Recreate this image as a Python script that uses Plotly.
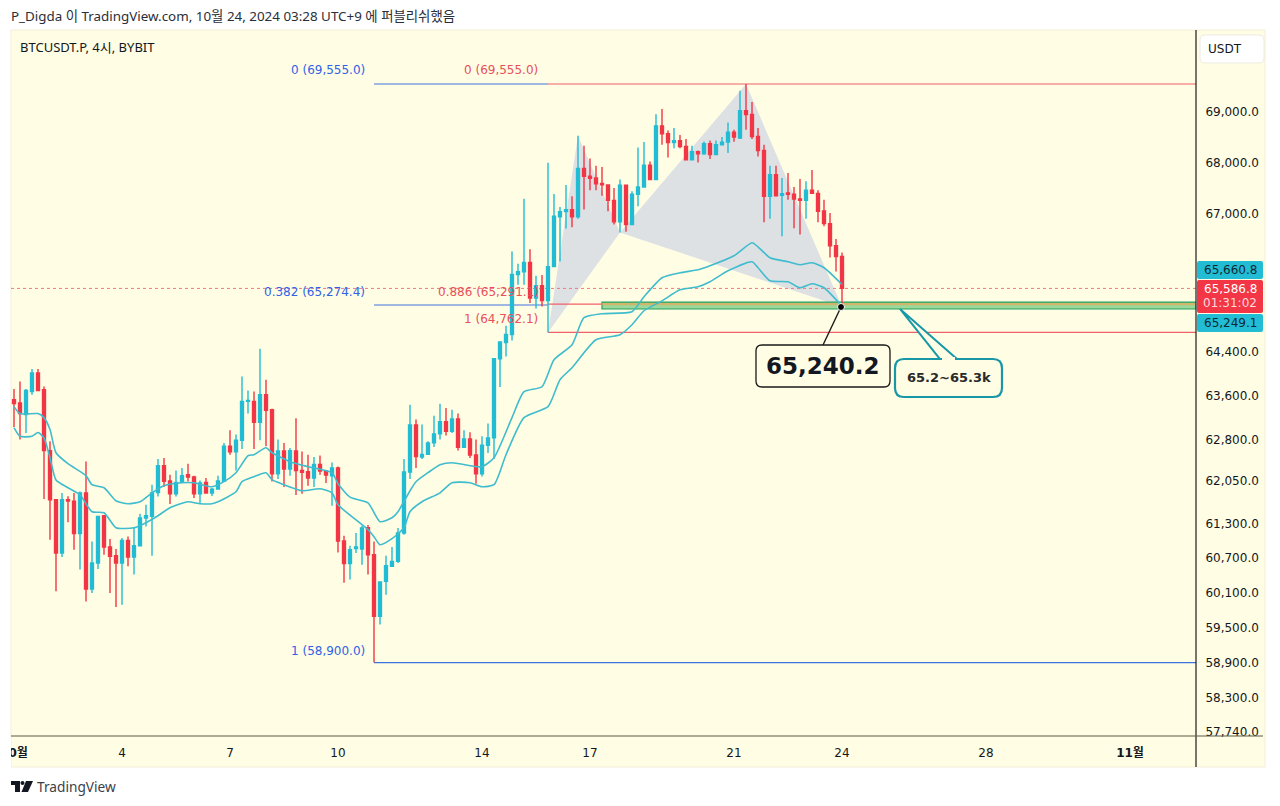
import pandas as pd
import plotly.graph_objects as go

W, H = 1280, 806
FONT = "DejaVu Sans, Noto Sans CJK KR, sans-serif"
KFONT = "Noto Sans, Noto Sans CJK KR, sans-serif"

opens = [63522,63462,63250,63673,64011,63704,62597,61721,60784,61721,61698,61123,61841,60158,60611,61439,60888,60737,60611,61005,
60715,60911,61399,61427,61851,62329,62055,61828,62030,62168,62126,61828,62030,61841,61911,62048,62677,62579,62785,63491,
63491,63111,63612,63341,62185,62592,62270,62592,62244,62221,62108,62352,62234,62150,62287,60994,60599,60864,60853,61228,
60755,59688,60293,60552,60639,61134,62217,63064,62484,62531,62738,62901,63124,62948,63173,62660,62811,62520,62185,62695,
62829,64274,64576,64725,65850,65902,66078,65404,65637,65359,66002,66949,67051,67089,66949,67889,67734,67703,67593,67567,
67268,66853,67559,66801,67385,67527,67949,67670,68724,68567,68395,68429,68317,68058,68213,68174,68370,68161,68350,68403,
68600,68482,69026,68947,68513,68238,67345,67766,67364,67410,67385,67295,67268,67462,67403,67062,66820,66395,66191]
highs = [63717,63857,63717,64085,64085,63765,62767,61730,61841,61785,61841,61870,62406,60987,61439,61439,61029,60853,61047,61075,
61223,61475,61633,61989,62449,62466,62168,62244,62287,62364,62150,62065,62108,61929,62150,62738,62966,62888,63949,63691,
63673,64459,63888,63359,62798,62738,62645,63184,62585,62526,62484,62513,62244,62388,62316,61087,60911,61134,61263,61276,
60987,60293,60737,60888,61223,62449,63432,63160,63070,62767,63232,63450,63372,63341,63269,62966,62930,62798,62857,63088,
64290,64583,64888,66286,66053,67300,66331,65826,65839,68000,67393,67141,67567,67345,68527,68330,68083,67942,67916,67567,
67508,67670,67567,67443,68297,68403,68025,68955,69055,68632,68679,68541,68462,68330,68238,68415,68435,68435,68502,68789,
68645,69421,69555,69198,68679,68350,67942,67942,67703,67800,67527,67683,67637,67857,67462,67281,67026,66523,66267]
lows = [63028,62798,62918,63612,63680,61733,61017,60118,60715,61322,60841,60495,59945,60090,60507,60755,60090,59849,59889,60552,
60408,60900,61251,60737,61780,61947,61645,61780,62019,62048,61751,61663,61828,61787,61900,62040,62526,62244,62628,63269,
62628,62785,62677,62048,62090,61947,62150,61804,61828,61971,61947,62168,62019,61615,60794,60265,60322,60784,60581,60408,
58900,59546,60060,60541,60611,61105,62090,62287,62449,62525,62666,62798,62870,62918,62602,62645,62466,62006,62137,62556,
62449,63754,64317,64613,65655,65655,65311,65210,65247,64762,65990,66097,66724,66749,66911,67089,67462,67462,67358,67056,
66801,66651,66664,66790,67152,67520,67660,67660,68350,68103,68285,68285,68050,68050,68002,68155,68070,68155,68345,68188,
68410,68462,68645,68462,68122,66845,66911,67345,66575,67281,66730,66609,66911,67395,66845,66768,66172,65907,65240.2]
closes = [63450,63269,63691,64011,63691,62602,61721,60784,61721,61698,61123,61841,60158,60611,61427,60888,60725,60611,61005,60715,
60911,61399,61439,61841,62329,62048,61828,62030,62150,62126,61828,62019,61841,61911,62055,62677,62579,62785,63491,63509,
63111,63612,63328,62185,62592,62270,62597,62244,62209,62108,62352,62234,62162,62287,60994,60599,60841,60888,61223,60755,
59688,60279,60564,60639,61134,62217,63064,62495,62531,62738,62901,63124,62948,63173,62660,62811,62520,62185,62695,62829,
64274,64583,64725,65850,65902,66078,65404,65637,65359,65997,66960,67051,67089,66949,67889,67734,67695,67587,67567,67268,
66853,67559,66801,67385,67527,67949,67670,68724,68567,68395,68429,68317,68058,68213,68174,68370,68161,68350,68403,68600,
68502,69026,68947,68513,68238,67345,67766,67358,67397,67385,67295,67268,67462,67403,67056,66820,66395,66191,65586.8]

upper_idx = [0,1,4,5,6,7,9,12,13,15,17,19,21,23,25,28,30,33,35,37,39,40,42,43,46,49,53,54,56,59,61,63,64,66,67,69,71,73,76,78,80,83,85,88,90,93,95,98,103,105,108,111,114,116,120,123,124,126,129,131,133,135,138]
upper_val = [63395,63269,63269,63196,62979,62561,62364,62150,61989,61935,61703,61651,61686,61845,61971,62024,62024,61953,62043,62203,62508,62526,62651,62561,62400,62311,62203,62006,61769,61668,61334,61404,61510,61881,62043,62203,62346,62382,62329,62311,62472,63196,63670,63759,64256,64533,65037,65112,65149,65429,65788,65882,65940,66016,66205,66452,66375,66167,66091,66035,66072,65978,65660.8]
lower_idx = [0,1,3,4,5,6,7,9,11,13,15,17,20,22,24,26,29,31,33,34,37,38,40,42,43,45,48,51,53,54,59,60,61,63,65,66,68,71,73,76,78,80,82,85,89,91,93,97,101,103,105,108,111,114,116,119,123,124,126,129,131,133,135,138]
lower_val = [63015,62857,62857,62925,62829,62472,62073,61935,61810,61510,61492,61228,61228,61316,61439,61580,61686,61651,61651,61686,61863,62043,62132,62203,62078,61989,61881,61917,61845,61633,61193,61070,60929,61035,61228,61510,61686,61845,62024,62024,61953,61989,62526,63196,63395,63888,64109,64626,64719,64905,65167,65353,65561,65618,65712,65920,66091,65978,65731,65712,65599,65674,65599,65249.1]

pattern_idx = [89, 94, 101, 122, 138]
pattern_val = [64762, 68527, 66651, 69555, 65240.2]
fib_blue = [69555.0, 65274.4, 58900.0]
fib_red = [69555.0, 65291.1, 64762.1]
zone = [65200, 65330]
last_price = 65586.8
y_ticks = [69000, 68000, 67000, 64400, 63600, 62800, 62050, 61300, 60700, 60100, 59500, 58900, 58300, 57740]
x_tick_dates = ["2024-10-01", "2024-10-04", "2024-10-07", "2024-10-10", "2024-10-14", "2024-10-17", "2024-10-21", "2024-10-24", "2024-10-28", "2024-11-01"]
x_tick_text = ["<b>10월</b>", "4", "7", "10", "14", "17", "21", "24", "28", "<b>11월</b>"]

CREAM = "#fffde4"
UP = "#22bcd4"
DOWN = "#f23645"
TEAL = "#1797a8"
LINE = "#3fbccd"

start = pd.Timestamp("2024-10-01")
def at(i):
    return start + pd.Timedelta(hours=4 * i)
def sd(i):
    return at(i).strftime("%Y-%m-%d_%H:%M:%S")
dates = [at(i) for i in range(len(opens))]
x_end = at(197)
x_begin = at(-0.5)

def fx(x): return x / W
def fy(y): return 1 - y / H

def rrect(x0, y0, x1, y1, r):
    pts = [("M", x0 + r, y0), ("L", x1 - r, y0), ("Q", x1, y0, x1, y0 + r), ("L", x1, y1 - r), ("Q", x1, y1, x1 - r, y1),
           ("L", x0 + r, y1), ("Q", x0, y1, x0, y1 - r), ("L", x0, y0 + r), ("Q", x0, y0, x0 + r, y0)]
    out = ""
    for p in pts:
        out += p[0]
        coords = p[1:]
        out += " ".join(f"{fx(coords[i]):.5f},{fy(coords[i+1]):.5f}" for i in range(0, len(coords), 2)) + " "
    return out + "Z"

def poly(points):
    return "M" + " L".join(f"{fx(a):.5f},{fy(b):.5f}" for a, b in points) + " Z"

shapes = []
def paper_shape(path=None, fill=None, line=None, width=1, layer="above"):
    shapes.append(dict(type="path", xref="paper", yref="paper", path=path, fillcolor=fill or "rgba(0,0,0,0)",
                       line=dict(color=line or "rgba(0,0,0,0)", width=width), layer=layer))

# chart panel
shapes.append(dict(type="rect", xref="paper", yref="paper", x0=fx(11), x1=fx(1265), y0=fy(767), y1=fy(30),
                   fillcolor=CREAM, line=dict(color="#f3efd8", width=1), layer="below"))
# harmonic pattern
for a, b, c in [(0, 1, 2), (2, 3, 4)]:
    shapes.append(dict(type="path", xref="x", yref="y", layer="below", fillcolor="#dde1e4", line=dict(width=0),
                       path=f"M{sd(pattern_idx[a])},{pattern_val[a]} L{sd(pattern_idx[b])},{pattern_val[b]} L{sd(pattern_idx[c])},{pattern_val[c]} Z"))
def hline(i0, i1, price, color, width=1, dash="solid"):
    shapes.append(dict(type="line", xref="x", yref="y", layer="below", x0=at(i0), x1=i1, y0=price, y1=price,
                       line=dict(color=color, width=width, dash=dash)))
BLUE, RED = "#3f74e0", "#ef6068"
# zone
shapes.append(dict(type="rect", xref="x", yref="y", layer="below", x0=at(98), x1=x_end, y0=zone[0], y1=zone[1],
                   fillcolor="#9cd89a", line=dict(color="#25a05c", width=1.2)))
hline(60, at(89), fib_blue[0], BLUE, 1.2)
hline(60, at(89), fib_blue[1], BLUE, 1.2)
hline(60, x_end, fib_blue[2], BLUE, 1.2)
hline(89, x_end, fib_red[0], RED, 1.2)
hline(89, at(98), fib_red[1], RED, 1.2)
hline(98, x_end, fib_red[1], "rgba(225,170,90,0.75)", 2.4)
hline(89, x_end, fib_red[2], RED, 1.2)
hline(-0.5, x_end, last_price, "#ee7a80", 1, "dot")

fig = go.Figure()
fig.add_trace(go.Candlestick(x=dates, open=opens, high=highs, low=lows, close=closes,
    increasing=dict(line=dict(color=UP, width=1.4), fillcolor=UP),
    decreasing=dict(line=dict(color=DOWN, width=1.4), fillcolor=DOWN), whiskerwidth=0, showlegend=False))
fig.add_trace(go.Scatter(x=[at(i) for i in upper_idx], y=upper_val, mode="lines",
    line=dict(color=LINE, width=1.6, shape="spline", smoothing=0.6), showlegend=False))
fig.add_trace(go.Scatter(x=[at(i) for i in lower_idx], y=lower_val, mode="lines",
    line=dict(color=LINE, width=1.6, shape="spline", smoothing=0.6), showlegend=False))

# axis borders
shapes.append(dict(type="line", xref="paper", yref="paper", x0=fx(1196), x1=fx(1196), y0=fy(767), y1=fy(30), line=dict(color="#1c1c1c", width=1.2), layer="above"))
shapes.append(dict(type="line", xref="paper", yref="paper", x0=fx(11), x1=fx(1263), y0=fy(736), y1=fy(736), line=dict(color="#5a5a48", width=1.2), layer="above"))
# clip of first month label
shapes.append(dict(type="rect", xref="paper", yref="paper", x0=0, x1=fx(11), y0=fy(767), y1=fy(738), fillcolor="white", line=dict(width=0), layer="above"))
# price boxes
paper_shape(rrect(1197, 261, 1263, 279, 2), UP)
paper_shape(rrect(1197, 280, 1263, 313, 2), DOWN)
paper_shape(rrect(1197, 314, 1263, 332, 2), UP)
paper_shape(rrect(1200, 35, 1264, 63, 5), "white", "#ecebe0", 1)
# callouts
shapes.append(dict(type="line", xref="paper", yref="paper", x0=fx(841), y0=fy(307), x1=fx(823), y1=fy(345), line=dict(color="#1a1a1a", width=1.4), layer="above"))
paper_shape(rrect(756, 345, 890, 387, 6), CREAM, "#1a1a1a", 1.3)
paper_shape(poly([(940, 359), (900, 309), (957, 359)]), CREAM, TEAL, 2)
paper_shape(rrect(895, 359, 1002, 397, 9), CREAM, TEAL, 2.2)
shapes.append(dict(type="rect", xref="paper", yref="paper", x0=fx(942), x1=fx(955), y0=fy(361), y1=fy(357), fillcolor=CREAM, line=dict(width=0), layer="above"))
shapes.append(dict(type="circle", xref="paper", yref="paper", x0=fx(837.5), x1=fx(844.5), y0=fy(310.5), y1=fy(303.5), fillcolor="#000000", line=dict(color="white", width=1), layer="above"))
# logo
paper_shape(poly([(11, 781), (20, 781), (20, 792), (15, 792), (15, 785), (11, 785)]), "#131722")
shapes.append(dict(type="circle", xref="paper", yref="paper", x0=fx(20.5), x1=fx(24.5), y0=fy(785), y1=fy(781), fillcolor="#131722", line=dict(width=0), layer="above"))
paper_shape(poly([(26, 781), (33, 781), (28, 792), (21.5, 792)]), "#131722")

ann = []
def text(x, y, s, size=12, color="#131722", anchor="left", font=FONT):
    ann.append(dict(xref="paper", yref="paper", x=fx(x), y=fy(y), text=s, showarrow=False, xanchor=anchor, yanchor="middle",
                    font=dict(family=font, size=size, color=color), borderpad=0, borderwidth=0))

TB, TR = "#2f62e6", "#e8505b"
text(11, 16, "P_Digda 이 TradingView.com, 10월 24, 2024 03:28 UTC+9 에 퍼블리쉬했음", 13.4, "#2a2e39", font=KFONT)
text(20, 47, "BTCUSDT.P, 4시, BYBIT", 13, "#131722", font=KFONT)
text(37, 786, "TradingView", 13.7, "#3c3f48", font=KFONT)
text(365, 70.5, "0 (69,555.0)", 12, TB, "right")
text(538, 70.5, "0 (69,555.0)", 12, TR, "right")
text(365, 291.5, "0.382 (65,274.4)", 12, TB, "right")
text(539, 291.5, "0.886 (65,291.1)", 12, TR, "right")
text(538, 319.5, "1 (64,762.1)", 12, TR, "right")
text(365, 650.5, "1 (58,900.0)", 12, TB, "right")
text(1230, 269.5, "65,660.8", 12, "#0d2a33", "center")
text(1230, 289, "65,586.8", 12, "white", "center")
text(1230, 303, "01:31:02", 12, "#ffd9dc", "center")
text(1230, 323, "65,249.1", 12, "#0d2a33", "center")
text(1225, 49, "USDT", 12, "#131722", "center")
text(823, 366, "<b>65,240.2</b>", 23, "#131722", "center")
text(949, 377, "<b>65.2~65.3k</b>", 13, "#2a2a2a", "center")

fig.update_layout(
    width=W, height=H, autosize=False, margin=dict(l=0, r=0, t=0, b=0),
    paper_bgcolor="white", plot_bgcolor="rgba(0,0,0,0)", showlegend=False,
    shapes=shapes, annotations=ann,
    xaxis=dict(type="date", domain=[fx(11), fx(1196)], range=[x_begin, x_end], rangeslider=dict(visible=False),
               tickmode="array", tickvals=x_tick_dates, ticktext=x_tick_text, showgrid=False, zeroline=False,
               ticks="outside", ticklen=6, tickcolor="rgba(0,0,0,0)", showline=False,
               tickangle=0, tickfont=dict(family=FONT, size=12, color="#131722"), automargin=False),
    yaxis=dict(type="log", domain=[fy(736), fy(30)], range=[4.76095, 4.84907], side="right",
               tickmode="array", tickvals=y_ticks, ticktext=[f"{v:,.1f}" for v in y_ticks], showgrid=False, zeroline=False,
               ticks="outside", ticklen=6, tickcolor="rgba(0,0,0,0)", showline=False,
               tickfont=dict(family=FONT, size=12, color="#131722"), automargin=False),
)
fig.write_html("out.html", config=dict(displayModeBar=False),
               post_script="document.body.style.margin='0';document.body.style.overflow='hidden';")
